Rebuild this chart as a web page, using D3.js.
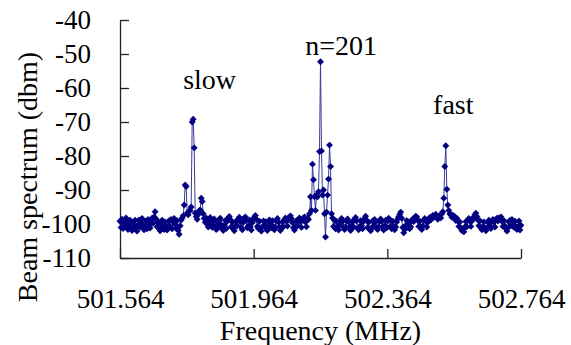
<!DOCTYPE html>
<html>
<head>
<meta charset="utf-8">
<script src="https://cdn.jsdelivr.net/npm/d3@7"></script>
<style>
body { margin: 0; background: #fff; }
</style>
</head>
<body>
<script>
// sweep grid of the analyzer
var freqStart = 501.564;
var freqStep = 0.003;

// measured power, one value per sweep point (dBm)
var power = [
  -99.2,-101.0,-98.6,-101.3,-99.6,-100.8,-98.2,-99.4,-101.6,-100.3,
  -98.9,-101.1,-101.9,-99.5,-100.7,-98.9,-101.2,-102.1,-100.2,-98.8,
  -100.9,-99.6,-98.4,-100.6,-101.7,-100.5,-99.1,-101.4,-98.7,-100.4,
  -101.2,-99.3,-98.3,-99.8,-97.9,-96.4,-98.5,-100.8,-99.5,-101.3,
  -102.0,-100.5,-98.9,-100.3,-101.6,-99.4,-101.0,-101.8,-100.6,-99.0,
  -100.9,-98.7,-101.4,-99.2,-98.4,-100.1,-101.2,-99.0,-101.9,-103.0,
  -100.5,-98.8,-98.2,-97.6,-94.4,-88.5,-89.0,-96.8,-97.3,-96.2,
  -96.0,-95.0,-70.0,-69.2,-77.6,-96.8,-97.9,-98.6,-97.2,-96.1,
  -95.9,-92.4,-93.4,-97.0,-98.4,-99.5,-98.2,-100.1,-100.9,-99.0,
  -98.1,-100.3,-101.0,-99.2,-98.5,-100.7,-101.6,-99.4,-101.1,-98.9,
  -98.3,-100.2,-101.2,-101.9,-100.4,-99.0,-101.3,-99.2,-98.2,-97.8,
  -98.7,-100.8,-99.4,-101.4,-102.0,-100.6,-99.1,-100.5,-98.7,-98.0,
  -99.3,-101.0,-101.7,-99.5,-98.4,-97.9,-99.0,-101.1,-100.6,-98.8,
  -100.9,-101.8,-99.6,-98.6,-98.0,-97.5,-98.6,-100.7,-101.3,-99.2,
  -101.4,-102.1,-100.8,-99.1,-100.6,-99.3,-101.3,-101.9,-100.3,-98.8,
  -99.4,-101.1,-99.0,-100.7,-101.7,-101.0,-99.2,-98.4,-99.4,-100.9,
  -101.9,-101.2,-99.4,-100.8,-98.8,-98.2,-99.2,-100.6,-98.6,-98.0,
  -97.6,-98.4,-99.6,-101.1,-101.8,-100.7,-99.0,-100.5,-98.9,-98.2,
  -99.3,-101.0,-98.5,-99.0,-97.9,-99.4,-100.8,-98.3,-98.7,-97.0,
  -92.0,-96.0,-82.4,-87.0,-92.0,-96.0,-91.5,-92.0,-90.5,-78.7,
  -52.3,-78.5,-91.5,-90.0,-97.0,-103.8,-96.5,-91.5,-86.8,-76.8,
  -83.1,-97.0,-98.2,-100.7,-98.9,-101.4,-99.2,-100.9,-101.8,-100.4,
  -99.1,-98.4,-99.3,-101.0,-101.6,-100.8,-99.0,-98.5,-99.4,-101.1,
  -101.9,-100.6,-99.2,-100.9,-98.8,-98.1,-99.1,-101.2,-101.7,-100.7,
  -99.0,-100.5,-101.4,-99.3,-98.4,-97.7,-98.9,-101.0,-99.5,-101.5,
  -102.0,-101.1,-99.1,-100.7,-98.7,-99.4,-101.2,-101.6,-100.8,-99.2,
  -98.5,-99.3,-100.9,-101.8,-100.5,-98.9,-101.1,-99.1,-98.3,-98.8,
  -100.6,-101.4,-99.2,-100.8,-101.7,-100.9,-99.4,-98.5,-97.9,-97.2,
  -96.5,-98.3,-101.0,-102.6,-101.6,-100.4,-99.0,-101.0,-99.4,-101.4,
  -100.8,-99.1,-98.5,-99.3,-98.2,-97.7,-97.9,-99.0,-100.7,-99.2,
  -101.0,-101.6,-100.6,-98.9,-98.4,-99.2,-100.9,-99.5,-98.7,-98.1,
  -98.8,-98.2,-97.5,-98.0,-97.5,-97.1,-97.8,-98.6,-98.0,-97.5,
  -98.2,-97.0,-96.4,-92.4,-83.1,-77.0,-89.8,-94.4,-96.0,-97.0,
  -97.3,-98.0,-97.4,-97.6,-98.4,-99.0,-98.3,-99.1,-100.7,-99.4,
  -101.1,-101.9,-101.5,-102.3,-100.9,-99.3,-100.8,-98.8,-98.4,-99.2,
  -100.7,-99.1,-98.5,-97.9,-97.3,-96.8,-97.8,-98.8,-100.5,-99.0,
  -101.0,-101.7,-100.8,-99.4,-101.1,-102.0,-101.2,-99.5,-98.9,-100.6,
  -101.3,-99.3,-98.7,-99.4,-100.9,-98.8,-98.3,-99.1,-98.2,-98.5,
  -97.9,-99.2,-100.7,-99.0,-100.6,-101.4,-102.1,-101.1,-99.4,-98.9,
  -100.5,-98.7,-99.3,-101.0,-99.2,-100.8,-101.6,-100.7,-99.1,-101.8,
  -100.4
];

var xTicks = [501.564, 501.964, 502.364, 502.764];
var yTicks = [-110, -100, -90, -80, -70, -60, -50, -40];

var peakNames = ["slow", "n=201", "fast"];
var peakFreqs = [501.753, 502.118, 502.501];
var peakLevels = [-60.3, -50.3, -67.6];

var serif = '"Liberation Serif", "Times New Roman", Times, serif';
var w = 571, h = 345;
var margin = {left: 120, right: 50, top: 20, bottom: 87};

var svg = d3.select("body").append("svg")
    .attr("width", w)
    .attr("height", h)
    .style("font-family", serif);

var x = d3.scaleLinear().domain([501.564, 502.764]).range([margin.left, w - margin.right]);
var y = d3.scaleLinear().domain([-110, -40]).range([h - margin.bottom, margin.top]);

var points = power.map(function(p, i) { return {f: freqStart + i * freqStep, p: p}; });

// axes, ticks pointing inward
var xAxis = svg.append("g")
    .attr("transform", "translate(0," + y(-110) + ")")
    .call(d3.axisBottom(x).tickValues(xTicks).tickSizeInner(-9).tickSizeOuter(0)
        .tickFormat(function(d) { return d.toFixed(3); }).tickPadding(31));
var yAxis = svg.append("g")
    .attr("transform", "translate(" + x(501.564) + ",0)")
    .call(d3.axisLeft(y).tickValues(yTicks).tickSizeInner(-9).tickSizeOuter(0)
        .tickFormat(function(d) { return String(d); }).tickPadding(29));

svg.selectAll(".domain, .tick line").attr("stroke", "#222").attr("stroke-width", 1.3);
svg.selectAll(".tick text")
    .style("font-family", serif)
    .style("font-size", "27px")
    .attr("fill", "#000");

// trace
svg.append("path")
    .datum(points)
    .attr("fill", "none")
    .attr("stroke", "#3a3aa0")
    .attr("stroke-width", 1)
    .attr("d", d3.line().x(function(d) { return x(d.f); }).y(function(d) { return y(d.p); }));

var marker = d3.symbol().type(d3.symbolSquare).size(24);
svg.append("g").selectAll("path")
    .data(points)
    .enter()
    .append("path")
    .attr("d", marker)
    .attr("fill", "#000080")
    .attr("transform", function(d) { return "translate(" + x(d.f) + "," + y(d.p) + ") rotate(45)"; });

// peak labels
svg.selectAll(".peak")
    .data(peakNames)
    .enter()
    .append("text")
    .attr("class", "peak")
    .attr("x", function(d, i) { return x(peakFreqs[i]); })
    .attr("y", function(d, i) { return y(peakLevels[i]); })
    .style("font-size", "28px")
    .text(function(d) { return d; });

svg.append("text")
    .attr("x", (x.range()[0] + x.range()[1]) / 2)
    .attr("y", 340)
    .attr("text-anchor", "middle")
    .style("font-size", "28px")
    .text("Frequency (MHz)");

svg.append("text")
    .attr("transform", "translate(37,177) rotate(-90)")
    .attr("text-anchor", "middle")
    .style("font-size", "28px")
    .text("Beam spectrum (dbm)");
</script>
</body>
</html>
